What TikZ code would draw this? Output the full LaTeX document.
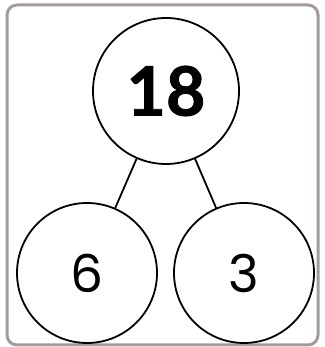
\documentclass[tikz,border=0pt]{standalone}
\usepackage{fontspec}
\setmainfont{Poppins}
\newfontfamily\bondbold[BoldFeatures={FakeBold=1.2}]{Lato}
\usetikzlibrary{positioning}
\definecolor{framegray}{RGB}{165,155,155}
\tikzset{
    bond/.style  = {circle, draw=black, line width=1.8pt, fill=white, inner sep=0pt},
    whole/.style = {bond, minimum size=146pt, font=\bondbold\fontsize{68}{68}\selectfont\bfseries},
    part/.style  = {bond, minimum size=140pt, font=\fontsize{52}{52}\selectfont},
    link/.style  = {line width=1.8pt, draw=black}
}
\begin{document}
\begin{tikzpicture}[x=1pt, y=1pt]
        \useasboundingbox (0,0) rectangle (324,347);
        % Frame
        \draw[draw=framegray, line width=3pt, rounded corners=10pt] (7,2) rectangle (318,342);

        % Number bond
        \node[whole] (top) at (166,256) {18};
        \node[part] (left) at (87,74) {6};
        \node[part] (right) at (244,74) {3};

        % Links
        \draw[link] (top) -- (left);
        \draw[link] (top) -- (right);
    \end{tikzpicture}
\end{document}
